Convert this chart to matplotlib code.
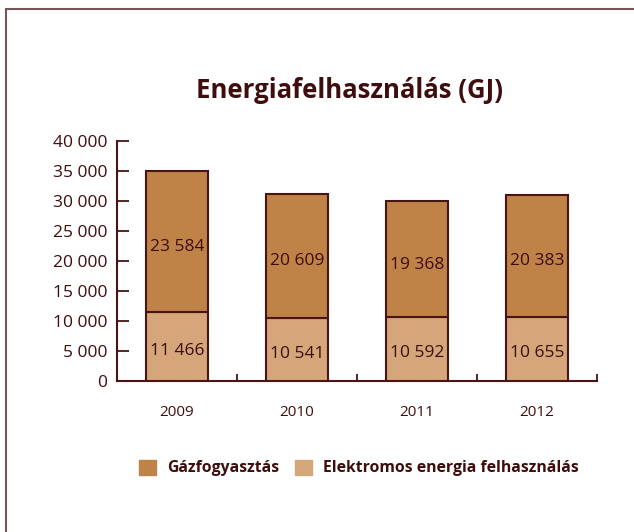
import matplotlib
matplotlib.use("Agg")
import matplotlib.pyplot as plt
import matplotlib.patches as mpatches
import numpy as np

years = ["2009", "2010", "2011", "2012"]
gas = [23584, 20609, 19368, 20383]
electric = [11466, 10541, 10592, 10655]
gas_labels = ["23 584", "20 609", "19 368", "20 383"]
electric_labels = ["11 466", "10 541", "10 592", "10 655"]
yticks = [0, 5000, 10000, 15000, 20000, 25000, 30000, 35000, 40000]
ytick_labels = ["0", "5 000", "10 000", "15 000", "20 000", "25 000", "30 000", "35 000", "40 000"]
title = "Energiafelhasználás (GJ)"
legend_names = ["Gázfogyasztás", "Elektromos energia felhasználás"]

plt.rcParams['font.family'] = ['Open Sans', 'DejaVu Sans']

dark = "#3f0d0d"
edge = "#4a1414"
c_gas = "#c08347"
c_el = "#d4a679"

W, H = 634, 532
fig = plt.figure(figsize=(W / 100, H / 100), dpi=100)
ax = fig.add_axes([117 / W, (H - 381) / H, (597 - 117) / W, (381 - 141) / H])

x = np.arange(len(years)) + 0.5
bw = 0.51
ax.bar(x, electric, width=bw, color=c_el, edgecolor=edge, linewidth=1.5, zorder=3)
ax.bar(x, gas, bottom=electric, width=bw, color=c_gas, edgecolor=edge, linewidth=1.5, zorder=3)

for xi, e, g, el, gl in zip(x, electric, gas, electric_labels, gas_labels):
    ax.text(xi, e / 2 - 700, el, ha="center", va="center", fontsize=12.5, color=dark, zorder=4)
    ax.text(xi, e + g / 2 - 900, gl, ha="center", va="center", fontsize=12.5, color=dark, zorder=4)

ax.set_xlim(0, len(years))
ax.set_ylim(0, 40000)
ax.set_yticks(yticks)
ax.set_yticklabels(ytick_labels, fontsize=12.5, color=dark)
ax.set_xticks(np.arange(len(years) + 1))
ax.set_xticklabels([])
ax.set_xticks(x, minor=True)
ax.set_xticklabels(years, minor=True, fontsize=11, color=dark)
ax.tick_params(axis="x", which="major", direction="in", length=5, width=1.3, color=edge)
ax.tick_params(axis="x", which="minor", length=0, pad=17.5)
ax.tick_params(axis="y", direction="in", length=8.5, width=1.3, color=edge, pad=7)

for s in ["top", "right"]:
    ax.spines[s].set_visible(False)
for s in ["left", "bottom"]:
    ax.spines[s].set_color(edge)
    ax.spines[s].set_linewidth(1.5)

fig.text(349 / W, (H - 91) / H, title, ha="center", va="center", fontsize=18.5,
         fontweight="bold", color=dark)

handles = [mpatches.Patch(color=c_gas), mpatches.Patch(color=c_el)]
leg = fig.legend(handles, legend_names, loc="center", bbox_to_anchor=(359 / W, (H - 468) / H),
                 ncol=2, frameon=False, handlelength=1.1, handleheight=1.1,
                 handletextpad=0.7, columnspacing=1.0,
                 prop={"weight": "bold", "size": 11.3})
for t in leg.get_texts():
    t.set_color(dark)

border = mpatches.Rectangle((6 / W, -0.05), 1.2, (H - 8.5) / H + 0.05, transform=fig.transFigure,
                            fill=False, edgecolor="#7a5555", linewidth=1.5)
fig.patches.append(border)

fig.savefig("out.png", dpi=100)
